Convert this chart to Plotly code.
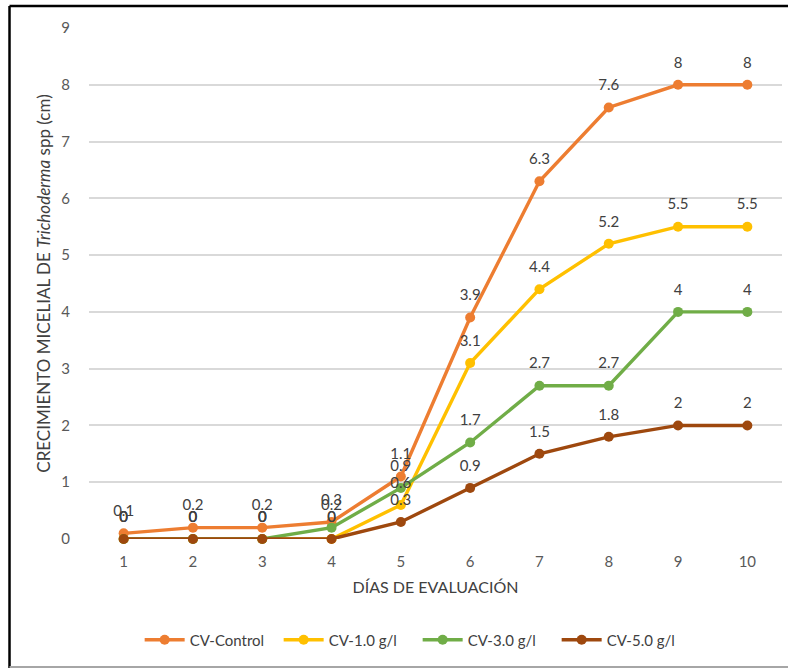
import plotly.graph_objects as go

days = [1, 2, 3, 4, 5, 6, 7, 8, 9, 10]
series_names = ["CV-Control", "CV-1.0 g/l", "CV-3.0 g/l", "CV-5.0 g/l"]
control = [0.1, 0.2, 0.2, 0.3, 1.1, 3.9, 6.3, 7.6, 8, 8]
cv1 = [0, 0, 0, 0, 0.6, 3.1, 4.4, 5.2, 5.5, 5.5]
cv3 = [0, 0, 0, 0.2, 0.9, 1.7, 2.7, 2.7, 4, 4]
cv5 = [0, 0, 0, 0, 0.3, 0.9, 1.5, 1.8, 2, 2]
colors = ["#ED7D31", "#FFC000", "#70AD47", "#9E480E"]
y_ticks = [0, 1, 2, 3, 4, 5, 6, 7, 8, 9]

FONT = "Lato, 'Open Sans', sans-serif"

fig = go.Figure()
all_vals = [control, cv1, cv3, cv5]
for name, vals, col in zip(series_names, all_vals, colors):
    fig.add_trace(go.Scatter(
        x=days, y=vals, name=name,
        mode="lines+markers",
        line=dict(color=col, width=3.4),
        marker=dict(color=col, size=10),
        cliponaxis=False,
    ))
# data labels (placed above each point, offset by an invisible larger marker)
for name, vals, col in zip(series_names, all_vals, colors):
    fig.add_trace(go.Scatter(
        x=days, y=vals, name=name + " labels",
        mode="markers+text",
        text=[f"{v:g}" for v in vals],
        textposition="top center",
        textfont=dict(size=15, color="#404040", family=FONT),
        marker=dict(size=20, opacity=0),
        showlegend=False, hoverinfo="skip",
        cliponaxis=False,
    ))

# plot area geometry
L, R, T, B = 89.4, 781.6, 28, 539
W, H = R - L, B - T

def px(x):
    return (x - L) / W

def py(y):
    return (B - y) / H

shapes = [
    dict(type="line", xref="paper", yref="paper", x0=px(10), x1=px(790), y0=py(6), y1=py(6),
         line=dict(color="black", width=2.5)),
    dict(type="line", xref="paper", yref="paper", x0=px(10), x1=px(10), y0=py(6), y1=py(668),
         line=dict(color="black", width=2.5)),
    dict(type="line", xref="paper", yref="paper", x0=px(10), x1=px(790), y0=py(667), y1=py(667),
         line=dict(color="#A6A6A6", width=2)),
]

fig.update_layout(
    width=788, height=669,
    margin=dict(l=L, r=788 - R, t=T, b=669 - B),
    paper_bgcolor="white", plot_bgcolor="white",
    font=dict(family=FONT, color="#404040"),
    showlegend=True,
    legend=dict(orientation="h", x=px(140), xanchor="left", y=py(640), yanchor="middle",
                font=dict(size=15, color="#404040", family=FONT), itemwidth=40,
                entrywidth=84, traceorder="normal"),
    shapes=shapes,
    xaxis=dict(range=[0.5, 10.5], tickmode="array", tickvals=days, ticktext=[str(d) for d in days],
               showgrid=False, zeroline=False, showline=False, ticks="", ticklabelstandoff=12,
               tickfont=dict(size=15, color="#595959", family=FONT),
               title=dict(text="DÍAS DE EVALUACIÓN", font=dict(size=16, color="#404040", family=FONT),
                          standoff=12)),
    yaxis=dict(range=[0, 9], tickmode="array", tickvals=y_ticks, ticktext=[str(t) for t in y_ticks],
               showgrid=True, gridcolor="#D9D9D9", gridwidth=1.5, zeroline=False, showline=False,
               ticks="", ticklabelstandoff=18,
               tickfont=dict(size=15, color="#595959", family=FONT),
               title=dict(text="CRECIMIENTO MICELIAL DE <i>Trichoderma</i> spp (cm)",
                          font=dict(size=17, color="#404040", family=FONT), standoff=6)),
)

fig.write_html("out.html")
